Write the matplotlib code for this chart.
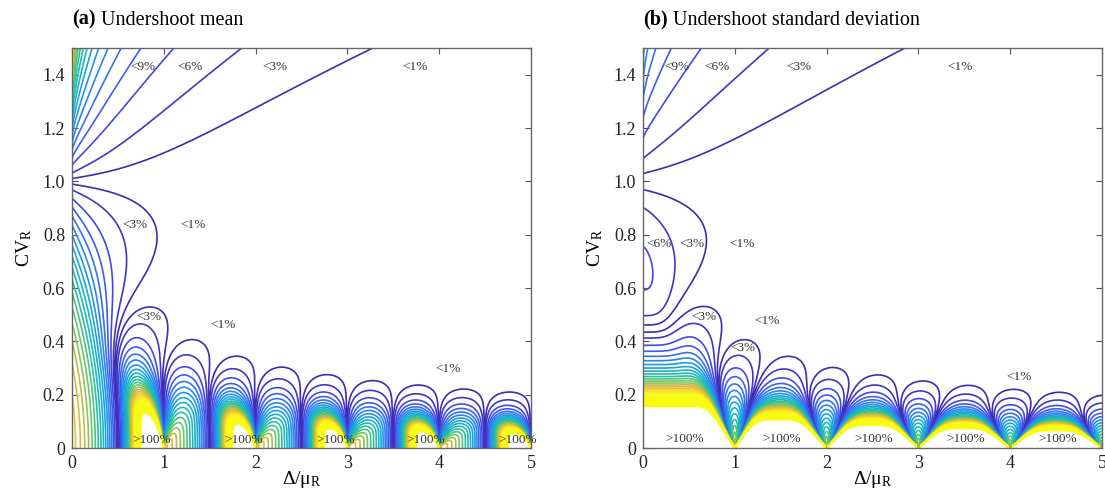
import math
import numpy as np
import matplotlib
matplotlib.use('Agg')
import matplotlib.pyplot as plt
from matplotlib.colors import LinearSegmentedColormap, Normalize

# contour levels of the relative error (fractions)
levels = [0.01, 0.03, 0.06, 0.09, 0.12, 0.15, 0.18, 0.21, 0.24, 0.27, 0.30,
          0.33, 0.36, 0.39, 0.42, 0.45, 0.48, 0.51, 0.54, 0.57, 0.60, 0.63,
          0.66, 0.69, 0.72, 0.75, 0.78, 0.81, 0.84, 0.87, 0.90, 0.93, 0.96, 0.99]

# CV_R values where the undershoot is evaluated (gamma distributed demand, mean 1)
cv_low = np.linspace(0.008, 0.3, 80)
cv_high = np.linspace(0.31, 1.5, 110)

x_ticks = [0, 1, 2, 3, 4, 5]
y_ticks = [0, 0.2, 0.4, 0.6, 0.8, 1.0, 1.2, 1.4]
y_tick_labels = ['0', '0.2', '0.4', '0.6', '0.8', '1.0', '1.2', '1.4']

# in-plot labels
mean_label_text = ['<9%', '<6%', '<3%', '<1%', '<3%', '<1%', '<3%', '<1%', '<1%',
                   '>100%', '>100%', '>100%', '>100%', '>100%']
mean_label_x = [0.77, 1.29, 2.21, 3.74, 0.69, 1.32, 0.84, 1.64, 4.10,
                0.87, 1.87, 2.87, 3.85, 4.86]
mean_label_y = [1.43, 1.43, 1.43, 1.43, 0.835, 0.835, 0.49, 0.46, 0.295,
                0.03, 0.03, 0.03, 0.03, 0.03]

std_label_text = ['<9%', '<6%', '<3%', '<1%', '<6%', '<3%', '<1%', '<3%', '<1%', '<3%', '<1%',
                  '>100%', '>100%', '>100%', '>100%', '>100%']
std_label_x = [0.37, 0.81, 1.70, 3.45, 0.17, 0.53, 1.08, 0.66, 1.35, 1.09, 4.10,
               0.45, 1.51, 2.51, 3.52, 4.52]
std_label_y = [1.43, 1.43, 1.43, 1.43, 0.765, 0.765, 0.765, 0.49, 0.475, 0.375, 0.265,
               0.035, 0.035, 0.035, 0.035, 0.035]

parula_colors = ['#3e26a8', '#4352f0', '#2a85ef', '#14aed6', '#27c09e',
                 '#7dc65c', '#e0b93a', '#fcd531', '#f9fb15']

plt.rcParams['font.family'] = 'Liberation Serif'
plt.rcParams['mathtext.fontset'] = 'custom'
plt.rcParams['mathtext.rm'] = 'Liberation Serif'
plt.rcParams['mathtext.it'] = 'Liberation Serif:italic'


def undershoot_errors(cv_values, h=0.0025, dmax=5.0, rmax=40.0):
    n = int(round(dmax / h))
    L = int(round(rmax / h))
    idx = np.arange(L + 1, dtype=float)
    x = idx * h
    t = idx[:n + 1]
    err_mean = np.zeros((len(cv_values), n + 1))
    err_std = np.zeros((len(cv_values), n + 1))

    for row, c in enumerate(cv_values):
        k = 1.0 / c ** 2
        theta = c ** 2
        logpdf = np.full(L + 1, -np.inf)
        logpdf[1:] = (k - 1) * np.log(x[1:]) - x[1:] / theta - k * math.log(theta) - math.lgamma(k)
        p = np.exp(logpdf) * h
        p[0] = 0.0
        p[1] = math.exp(k * math.log(1.5 * h / theta) - math.lgamma(k + 1))
        p /= p.sum()

        # tail sums for sum_{i>t}
        cs0 = np.cumsum(p[::-1])[::-1]
        cs1 = np.cumsum((idx * p)[::-1])[::-1]
        cs2 = np.cumsum((idx * idx * p)[::-1])[::-1]
        A0 = cs0[1:n + 2]
        A1 = cs1[1:n + 2]
        A2 = cs2[1:n + 2]
        T1 = h * (A1 - t * A0)
        T2 = h * h * (A2 - 2 * t * A1 + t * t * A0)

        # renewal masses
        u = np.zeros(n + 1)
        u[0] = 1.0
        pr = p[1:n + 1]
        for j in range(1, n + 1):
            u[j] = np.dot(pr[:j], u[j - 1::-1])

        m1 = np.convolve(u, T1)[:n + 1]
        m2 = np.convolve(u, T2)[:n + 1]
        std_e = np.sqrt(np.maximum(m2 - m1 ** 2, 1e-14))
        mean_e = m1 - h / 2

        mean_a = (1 + c ** 2) / 2
        std_a = math.sqrt((1 + c ** 2) * (1 + 2 * c ** 2) / 3 - mean_a ** 2)
        err_mean[row] = np.abs(mean_a - mean_e) / mean_e
        err_std[row] = np.abs(std_a - std_e) / std_e

    d = (t + 0.5) * h
    return d, err_mean, err_std


def style_axes(ax, tag, title):
    ax.set_xlim(0, 5)
    ax.set_ylim(0, 1.5)
    ax.set_xticks(x_ticks)
    ax.set_yticks(y_ticks)
    ax.set_yticklabels(y_tick_labels)
    ax.tick_params(direction='in', top=True, right=True, labelsize=13, length=4,
                   color='#555555', labelcolor='#222222', pad=5)
    for s in ax.spines.values():
        s.set_color('#666666')
        s.set_linewidth(1.0)
    ax.set_xlabel('Δ/μ$_\\mathrm{R}$', fontsize=14, labelpad=-2)
    ax.set_ylabel('CV$_\\mathrm{R}$', fontsize=14, labelpad=6)
    t = ax.text(0, 1.058, tag, transform=ax.transAxes, fontsize=14.5, fontweight='bold', va='baseline')
    ax.annotate(title, xy=(1, 0), xycoords=t, va='bottom', fontsize=14.5)


def draw_panel(ax, d, cv, err, texts, xs, ys, cmap, norm):
    ax.contour(d, cv, err, levels=levels, cmap=cmap, norm=norm, linewidths=1.2)
    for s, x, y in zip(texts, xs, ys):
        ax.text(x, y, s, fontsize=9.5, color='#333333', ha='center', va='center')


def main():
    cv = np.concatenate([cv_low, cv_high])
    d, err_mean, err_std = undershoot_errors(cv)
    # extend down to CV = 0 for drawing
    cv_plot = np.concatenate([[0.0], cv])
    err_mean = np.vstack([err_mean[:1], err_mean])
    err_std = np.vstack([err_std[:1], err_std])

    cmap = LinearSegmentedColormap.from_list('parula', parula_colors)
    norm = Normalize(vmin=0.0, vmax=0.6, clip=True)

    fig = plt.figure(figsize=(11.05, 4.9), dpi=100)
    ax_a = fig.add_axes([0.0652, 0.0857, 0.4153, 0.8163])
    ax_b = fig.add_axes([0.582, 0.0857, 0.4153, 0.8163])

    draw_panel(ax_a, d, cv_plot, err_mean, mean_label_text, mean_label_x, mean_label_y, cmap, norm)
    draw_panel(ax_b, d, cv_plot, err_std, std_label_text, std_label_x, std_label_y, cmap, norm)
    style_axes(ax_a, '(a)', ' Undershoot mean')
    style_axes(ax_b, '(b)', ' Undershoot standard deviation')

    fig.savefig('out.png', dpi=100)
    plt.close(fig)


if __name__ == "__main__":
    main()
